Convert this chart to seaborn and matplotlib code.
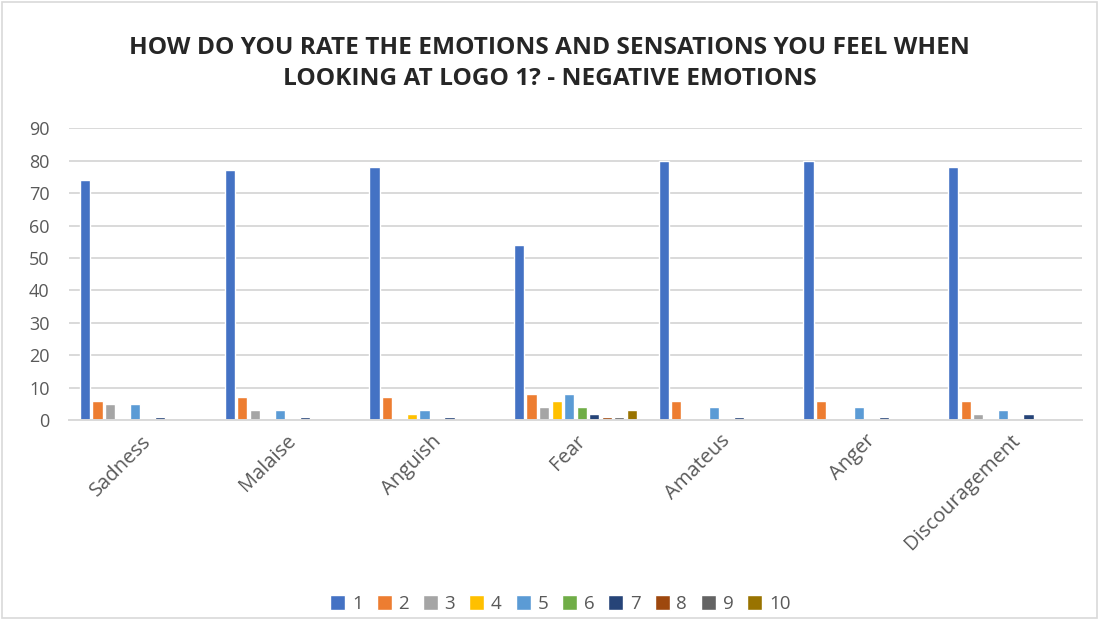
import numpy as np
import pandas as pd
import matplotlib.pyplot as plt
import seaborn as sns
from matplotlib.patches import Rectangle

categories = ["Sadness", "Malaise", "Anguish", "Fear", "Amateus", "Anger", "Discouragement"]
ratings = ["1", "2", "3", "4", "5", "6", "7", "8", "9", "10"]
counts = {
    "Sadness":        [74, 6, 5, 0, 5, 0, 1, 0, 0, 0],
    "Malaise":        [77, 7, 3, 0, 3, 0, 1, 0, 0, 0],
    "Anguish":        [78, 7, 0, 2, 3, 0, 1, 0, 0, 0],
    "Fear":           [54, 8, 4, 6, 8, 4, 2, 1, 1, 3],
    "Amateus":        [80, 6, 0, 0, 4, 0, 1, 0, 0, 0],
    "Anger":          [80, 6, 0, 0, 4, 0, 1, 0, 0, 0],
    "Discouragement": [78, 6, 2, 0, 3, 0, 2, 0, 0, 0],
}
colors = ["#4472C4", "#ED7D31", "#A5A5A5", "#FFC000", "#5B9BD5",
          "#70AD47", "#264478", "#9E480E", "#636363", "#997300"]

rows = []
for c in categories:
    for r, v in zip(ratings, counts[c]):
        rows.append({"emotion": c, "rating": r, "count": v})
df = pd.DataFrame(rows)

sns.set_style("white")
plt.rcParams["font.family"] = ["Open Sans", "DejaVu Sans"]

fig = plt.figure(figsize=(10.99, 6.2), dpi=100)
ax = fig.add_axes([0.0628, 0.3226, 0.9217, 0.4705])

sns.barplot(data=df, x="emotion", y="count", hue="rating", hue_order=ratings,
            palette=colors, saturation=1, width=0.866, gap=0.18, ax=ax, legend=True)

ax.set_ylim(0, 90)
ax.set_yticks(range(0, 91, 10))
ax.yaxis.grid(True, color="#D9D9D9", linewidth=1.4)
ax.set_axisbelow(True)
for s in ["top", "right", "left"]:
    ax.spines[s].set_visible(False)
ax.spines["bottom"].set_color("#D9D9D9")
ax.spines["bottom"].set_linewidth(1.4)
ax.set_xlabel("")
ax.set_ylabel("")
ax.tick_params(axis="y", length=0, colors="#595959", labelsize=13, pad=14)
ax.tick_params(axis="x", length=0, colors="#595959", labelsize=14.5, pad=8)
plt.setp(ax.get_xticklabels(), rotation=45, ha="right", rotation_mode="anchor")

fig.suptitle("HOW DO YOU RATE THE EMOTIONS AND SENSATIONS YOU FEEL WHEN\nLOOKING AT LOGO 1? - NEGATIVE EMOTIONS",
             y=0.942, fontsize=17.6, fontweight="bold", color="#262626", linespacing=1.4)

ax.legend(loc="center", bbox_to_anchor=(0.51, 0.026), bbox_transform=fig.transFigure,
          ncol=10, frameon=False, fontsize=13.5, handlelength=0.8, handleheight=0.8,
          handletextpad=0.35, columnspacing=0.75, labelcolor="#595959")

fig.patches.append(Rectangle((0.002, 0.003), 0.996, 0.994, transform=fig.transFigure,
                             fill=False, edgecolor="#D9D9D9", linewidth=1.2))

fig.savefig("out.png", dpi=100)
